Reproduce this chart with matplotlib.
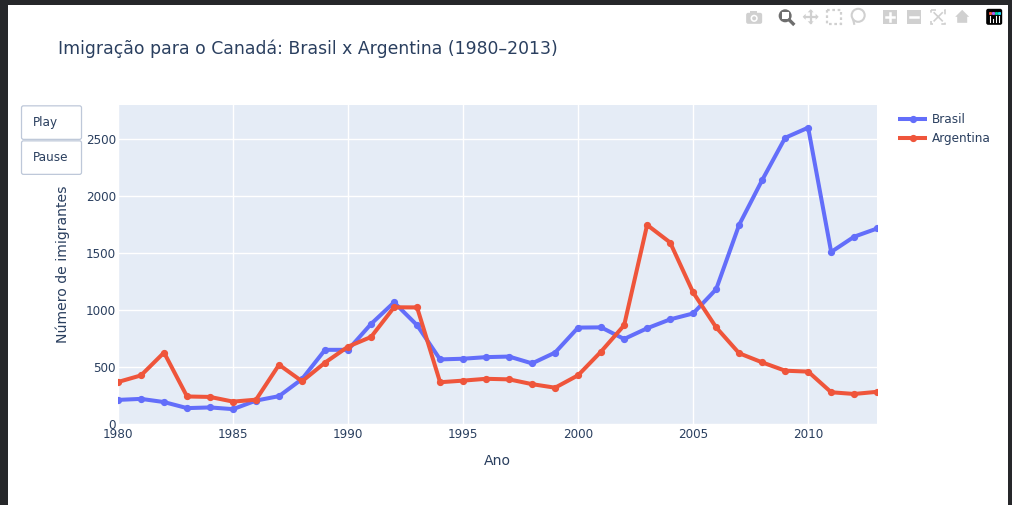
import matplotlib
matplotlib.use('Agg')
import matplotlib.pyplot as plt
from matplotlib.patches import Rectangle, FancyBboxPatch, Circle, Polygon

W, H = 1012, 505

# Data
anos = list(range(1980, 2014))
brasil = [211, 220, 192, 139, 145, 130, 205, 244, 394, 650, 650, 877, 1066, 866, 566, 572, 586,
          591, 531, 626, 845, 847, 745, 839, 917, 969, 1181, 1746, 2138, 2509, 2598, 1508, 1642, 1714]
argentina = [368, 426, 626, 241, 237, 196, 213, 519, 374, 538, 678, 763, 1023, 1022, 366, 380, 396,
             391, 349, 318, 427, 635, 865, 1745, 1591, 1153, 847, 620, 540, 467, 459, 278, 263, 282]
x_ticks = [1980, 1985, 1990, 1995, 2000, 2005, 2010]
y_ticks = [0, 500, 1000, 1500, 2000, 2500]

AZUL = '#636efa'
VERMELHO = '#ef553b'
TEXTO = '#2a3f5f'
FUNDO = '#e5ecf6'
CINZA = '#d0d0d0'

plt.rcParams['font.family'] = 'DejaVu Sans'

fig = plt.figure(figsize=((W + 0.2) / 100, (H + 0.2) / 100), dpi=100, facecolor='white')

# Main axes, placed in pixels
ax = fig.add_axes([118 / W, 1 - 424 / H, (877 - 118) / W, (424 - 105) / H], facecolor=FUNDO)
ax.plot(anos, brasil, color=AZUL, lw=2.9, marker='o', ms=4.2, label='Brasil')
ax.plot(anos, argentina, color=VERMELHO, lw=2.9, marker='o', ms=4.2, label='Argentina')
ax.set_xlim(1980, 2013)
ax.set_ylim(0, 2798)
ax.set_xticks(x_ticks)
ax.set_yticks(y_ticks)
ax.grid(True, color='white', lw=1.0)
ax.set_axisbelow(True)
for s in ax.spines.values():
    s.set_visible(False)
ax.tick_params(axis='x', length=0, labelsize=8.64, labelcolor=TEXTO, pad=3)
ax.tick_params(axis='y', length=0, labelsize=8.64, labelcolor=TEXTO, pad=1.5)
ax.set_xlabel('Ano', fontsize=10.08, color=TEXTO, labelpad=9)
ax.set_ylabel('Número de imigrantes', fontsize=10.08, color=TEXTO, labelpad=11.5)

# Overlay in pixel coordinates for everything outside the plot
ov = fig.add_axes([0, 0, 1, 1], facecolor='none')
ov.set_xlim(0, W)
ov.set_ylim(H, 0)
ov.axis('off')

# Dark window edges of the screenshot
ov.add_patch(Rectangle((0, 0), W, 5, color='#26272a', lw=0))
ov.add_patch(Rectangle((0, 0), 8, H, color='#26272a', lw=0))
ov.add_patch(Rectangle((1008, 0), 4, H, color='#26272a', lw=0))

ov.text(58, 49, 'Imigração para o Canadá: Brasil x Argentina (1980–2013)',
        fontsize=12.4, color=TEXTO, ha='left', va='center')

# Play / Pause buttons
for y0, rotulo in [(106, 'Play'), (141, 'Pause')]:
    ov.add_patch(FancyBboxPatch((21.5, y0), 60, 33.5, boxstyle='round,pad=0,rounding_size=2',
                                fc='white', ec='#bec8d9', lw=0.9))
    ov.text(33, y0 + 16, rotulo, fontsize=8.64, color=TEXTO, ha='left', va='center')

# Legend
for y0, cor, nome in [(119, AZUL, 'Brasil'), (138, VERMELHO, 'Argentina')]:
    ov.plot([898, 927], [y0, y0], color=cor, lw=2.9, solid_capstyle='butt')
    ov.plot([912.5], [y0], 'o', color=cor, ms=4.2)
    ov.text(932, y0, nome, fontsize=8.64, color=TEXTO, ha='left', va='center')

# Toolbar icons
ov.add_patch(FancyBboxPatch((746, 13), 16, 11, boxstyle='round,pad=0,rounding_size=2', fc=CINZA, ec='none'))
ov.add_patch(Rectangle((750, 11), 7, 3, fc=CINZA, ec='none'))
ov.add_patch(Circle((754, 18.5), 3.6, fc='white', ec='none'))
ov.add_patch(Circle((754, 18.5), 2.0, fc=CINZA, ec='none'))
ov.add_patch(Circle((785, 16), 6.5, fc='#6e6e6e', ec='none'))
ov.add_patch(Rectangle((781.5, 12.5), 7, 7, fc='white', ec='none'))
ov.plot([789, 793], [20, 24], color='#6e6e6e', lw=2.4)
ov.plot([805, 816], [17, 17], color=CINZA, lw=1.6)
ov.plot([810.5, 810.5], [11, 23], color=CINZA, lw=1.6)
for pts in ([[810.5, 9.5], [807.5, 12.5], [813.5, 12.5]], [[810.5, 24.5], [807.5, 21.5], [813.5, 21.5]],
            [[802.5, 17], [805.5, 14], [805.5, 20]], [[818.5, 17], [815.5, 14], [815.5, 20]]):
    ov.add_patch(Polygon(pts, closed=True, fc=CINZA, ec='none'))
ov.add_patch(Rectangle((827, 10), 14, 14, fc='none', ec=CINZA, lw=1.6, ls=(0, (1.2, 1.2))))
ov.add_patch(Circle((858, 15.5), 6.5, fc='none', ec=CINZA, lw=1.5))
ov.plot([853, 854], [20, 24], color=CINZA, lw=1.5)
for x0, plus in [(883, True), (907, False)]:
    ov.add_patch(Rectangle((x0, 10), 14, 14, fc=CINZA, ec='none'))
    ov.plot([x0 + 3, x0 + 11], [17, 17], color='white', lw=1.8)
    if plus:
        ov.plot([x0 + 7, x0 + 7], [13, 21], color='white', lw=1.8)
ov.add_patch(Rectangle((931, 10), 14, 14, fc='none', ec=CINZA, lw=1.2, ls=(0, (3, 5))))
ov.plot([934, 942], [13, 21], color=CINZA, lw=1.2)
ov.plot([942, 934], [13, 21], color=CINZA, lw=1.2)
ov.add_patch(Polygon([[962, 10], [955, 17], [957, 17], [957, 23], [967, 23], [967, 17], [969, 17]],
                     closed=True, fc=CINZA, ec='none'))
ov.add_patch(FancyBboxPatch((986, 9), 16, 16, boxstyle='round,pad=0,rounding_size=2', fc='black', ec='none'))
for bx, top in [(989.5, 16), (992.8, 19), (996, 16), (999, 16)]:
    ov.plot([bx, bx], [top, 22], color='white', lw=0.8)
for bx, c in [(989.5, '#ef553b'), (992.8, '#ab63fa'), (996, '#00cc96'), (999, '#19d3f3')]:
    ov.plot([bx], [13], 's', color=c, ms=1.2)

fig.savefig('out.png', dpi=100)
